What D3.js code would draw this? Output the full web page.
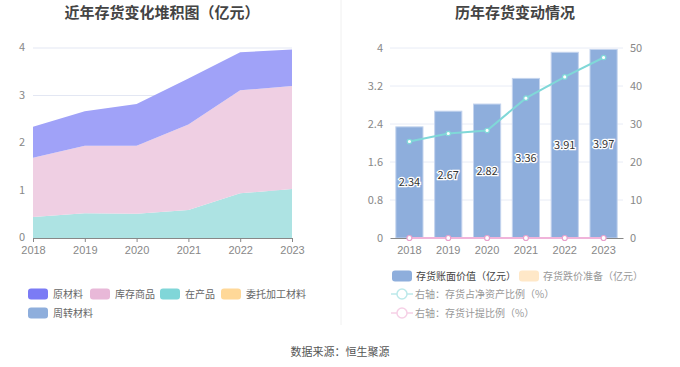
<!DOCTYPE html>
<html>
<head>
<meta charset="utf-8">
<script src="https://cdn.jsdelivr.net/npm/d3@7"></script>
<style>
  body { margin: 0; background: #fff; }
  svg { font-family: "Noto Sans CJK SC", "Noto Sans", sans-serif; }
</style>
</head>
<body>
<div id="chart"></div>
<script>
// data
var years = ["2018", "2019", "2020", "2021", "2022", "2023"];
var yuanCai = [0.65, 0.73, 0.88, 0.97, 0.80, 0.77];      // 原材料
var kuCun = [1.25, 1.42, 1.43, 1.80, 2.17, 2.17];        // 库存商品
var zaiChan = [0.44, 0.52, 0.51, 0.59, 0.94, 1.03];      // 在产品
var weiTuo = [0, 0, 0, 0, 0, 0];                         // 委托加工材料
var zhouZhuan = [0, 0, 0, 0, 0, 0];                      // 周转材料
var bookValue = [2.34, 2.67, 2.82, 3.36, 3.91, 3.97];    // 存货账面价值
var netRatio = [25.4, 27.5, 28.3, 36.8, 42.4, 47.5];     // 存货占净资产比例
var provRatio = [0, 0, 0, 0, 0, 0];                      // 存货计提比例
var leftTicks = [0, 1, 2, 3, 4];
var barTicks = [0, 0.8, 1.6, 2.4, 3.2, 4];
var rightTicks = [0, 10, 20, 30, 40, 50];

var W = 680, H = 367;
var svg = d3.select("#chart").append("svg").attr("width", W).attr("height", H);

// divider
svg.append("line").attr("x1", 341).attr("x2", 341).attr("y1", 0).attr("y2", 325)
  .attr("stroke", "#f0f0f0");

// ---------- left: stacked area ----------
var x1 = d3.scalePoint().domain(years).range([33, 292]);
var y1 = d3.scaleLinear().domain([0, 4]).range([238, 48]);

svg.append("text").attr("x", 162).attr("y", 18).attr("text-anchor", "middle")
  .attr("font-size", 15).attr("font-weight", "bold").attr("fill", "#444")
  .text("近年存货变化堆积图（亿元）");

var g1 = svg.append("g");
g1.selectAll(".grid").data(leftTicks.slice(1)).enter().append("line")
  .attr("x1", 33).attr("x2", 292)
  .attr("y1", function(d) { return y1(d); }).attr("y2", function(d) { return y1(d); })
  .attr("stroke", "#e3e7f3");

var rows = years.map(function(y, i) {
  return { year: y, zaiChan: zaiChan[i], kuCun: kuCun[i], yuanCai: yuanCai[i], weiTuo: weiTuo[i], zhouZhuan: zhouZhuan[i] };
});
var keys = ["zaiChan", "kuCun", "yuanCai", "weiTuo", "zhouZhuan"];
var areaColor = { zaiChan: "#ade3e3", kuCun: "#efcfe3", yuanCai: "#a0a2f8", weiTuo: "#ffd898", zhouZhuan: "#8eaedc" };
var stack = d3.stack().keys(keys)(rows);
var area = d3.area()
  .x(function(d) { return x1(d.data.year); })
  .y0(function(d) { return y1(d[0]); })
  .y1(function(d) { return y1(d[1]); });
g1.selectAll(".area").data(stack).enter().append("path")
  .attr("d", area).attr("fill", function(d) { return areaColor[d.key]; });

var ax1 = g1.append("g").attr("transform", "translate(0,238)")
  .call(d3.axisBottom(x1).tickSize(4).tickPadding(4));
ax1.select(".domain").attr("stroke", "#888");
ax1.selectAll(".tick line").attr("stroke", "#888");
ax1.selectAll("text").attr("fill", "#888").attr("font-size", 11);

g1.selectAll(".ylab").data(leftTicks).enter().append("text")
  .attr("x", 25).attr("y", function(d) { return y1(d) + 3; })
  .attr("text-anchor", "end").attr("font-size", 11).attr("fill", "#888")
  .text(function(d) { return d; });

// left legend
var leg1 = [
  { name: "原材料", color: "#7b7bf5", x: 28, y: 294 },
  { name: "库存商品", color: "#e8b8d8", x: 90, y: 294 },
  { name: "在产品", color: "#80d6d8", x: 160, y: 294 },
  { name: "委托加工材料", color: "#ffd898", x: 221, y: 294 },
  { name: "周转材料", color: "#8eaedc", x: 28, y: 313 }
];
var l1 = svg.selectAll(".leg1").data(leg1).enter().append("g");
l1.append("rect").attr("x", function(d) { return d.x; }).attr("y", function(d) { return d.y - 5.5; })
  .attr("width", 20).attr("height", 11).attr("rx", 3).attr("fill", function(d) { return d.color; });
l1.append("text").attr("x", function(d) { return d.x + 25; }).attr("y", function(d) { return d.y + 4; })
  .attr("font-size", 10).attr("fill", "#666").text(function(d) { return d.name; });

// ---------- right: bar + line ----------
var x2 = d3.scaleBand().domain(years).range([390, 623]).paddingInner(0.3).paddingOuter(0.15);
var y2 = d3.scaleLinear().domain([0, 4]).range([238, 48]);
var y3 = d3.scaleLinear().domain([0, 50]).range([238, 48]);

svg.append("text").attr("x", 515).attr("y", 18).attr("text-anchor", "middle")
  .attr("font-size", 15).attr("font-weight", "bold").attr("fill", "#444")
  .text("历年存货变动情况");

var g2 = svg.append("g");
g2.selectAll(".grid").data(barTicks.slice(1)).enter().append("line")
  .attr("x1", 390).attr("x2", 623)
  .attr("y1", function(d) { return y2(d); }).attr("y2", function(d) { return y2(d); })
  .attr("stroke", "#e8ecf6");

g2.selectAll(".bar").data(bookValue).enter().append("rect")
  .attr("x", function(d, i) { return x2(years[i]); })
  .attr("y", function(d) { return y2(d); })
  .attr("width", x2.bandwidth())
  .attr("height", function(d) { return 238 - y2(d); })
  .attr("fill", "#8eaedc").attr("stroke", "#c4d4ee").attr("stroke-width", 1);

g2.selectAll(".blab").data(bookValue).enter().append("text")
  .attr("x", function(d, i) { return x2(years[i]) + x2.bandwidth() / 2; })
  .attr("y", function(d) { return (238 + y2(d)) / 2 + 4; })
  .attr("text-anchor", "middle").attr("font-size", 11).attr("fill", "#333")
  .attr("stroke", "#fff").attr("stroke-width", 2.5).attr("paint-order", "stroke")
  .text(function(d) { return d.toFixed(2); });

var ax2 = g2.append("g").attr("transform", "translate(0,238)")
  .call(d3.axisBottom(x2).tickSize(0).tickPadding(8));
ax2.select(".domain").attr("stroke", "#888");
ax2.selectAll("text").attr("fill", "#888").attr("font-size", 11);

g2.selectAll(".ylab").data(barTicks).enter().append("text")
  .attr("x", 383).attr("y", function(d) { return y2(d) + 4; })
  .attr("text-anchor", "end").attr("font-size", 11).attr("fill", "#888")
  .text(function(d) { return d; });
g2.selectAll(".rlab").data(rightTicks).enter().append("text")
  .attr("x", 630).attr("y", function(d) { return y3(d) + 4; })
  .attr("text-anchor", "start").attr("font-size", 11).attr("fill", "#888")
  .text(function(d) { return d; });

var cx = function(d, i) { return x2(years[i]) + x2.bandwidth() / 2; };
var line = d3.line().x(cx).y(function(d) { return y3(d); });

g2.append("path").datum(provRatio).attr("d", line)
  .attr("fill", "none").attr("stroke", "#f0b4da").attr("stroke-width", 2);
g2.selectAll(".pdot").data(provRatio).enter().append("circle")
  .attr("cx", cx).attr("cy", function(d) { return y3(d); }).attr("r", 2.5)
  .attr("fill", "#fff").attr("stroke", "#e8a0cc").attr("stroke-width", 1.2);

g2.append("path").datum(netRatio).attr("d", line)
  .attr("fill", "none").attr("stroke", "#80d8d8").attr("stroke-width", 2);
g2.selectAll(".ndot").data(netRatio).enter().append("circle")
  .attr("cx", cx).attr("cy", function(d) { return y3(d); }).attr("r", 2.2)
  .attr("fill", "#fff").attr("stroke", "#80d8d8").attr("stroke-width", 1.2);

// right legend
var l2 = svg.append("g");
l2.append("rect").attr("x", 392).attr("y", 270.5).attr("width", 20).attr("height", 11).attr("rx", 3).attr("fill", "#8eaedc");
l2.append("text").attr("x", 416).attr("y", 280).attr("font-size", 10).attr("fill", "#444").text("存货账面价值（亿元）");
l2.append("rect").attr("x", 519).attr("y", 270.5).attr("width", 20).attr("height", 11).attr("rx", 3).attr("fill", "#ffe8c8");
l2.append("text").attr("x", 543).attr("y", 280).attr("font-size", 10).attr("fill", "#999").text("存货跌价准备（亿元）");

var lineLeg = [
  { name: "右轴：存货占净资产比例（%）", color: "#bce9ea", y: 294 },
  { name: "右轴：存货计提比例（%）", color: "#f6d0e6", y: 313 }
];
var l3 = svg.selectAll(".leg3").data(lineLeg).enter().append("g");
l3.append("line").attr("x1", 391).attr("x2", 413).attr("y1", function(d) { return d.y; }).attr("y2", function(d) { return d.y; })
  .attr("stroke", function(d) { return d.color; }).attr("stroke-width", 1.5);
l3.append("circle").attr("cx", 402).attr("cy", function(d) { return d.y; }).attr("r", 5)
  .attr("fill", "#fff").attr("stroke", function(d) { return d.color; }).attr("stroke-width", 1.5);
l3.append("text").attr("x", 415).attr("y", function(d) { return d.y + 4; })
  .attr("font-size", 10).attr("fill", "#999").text(function(d) { return d.name; });

// footer
svg.append("text").attr("x", 340).attr("y", 356).attr("text-anchor", "middle")
  .attr("font-size", 11).attr("fill", "#555").text("数据来源：恒生聚源");
</script>
</body>
</html>
